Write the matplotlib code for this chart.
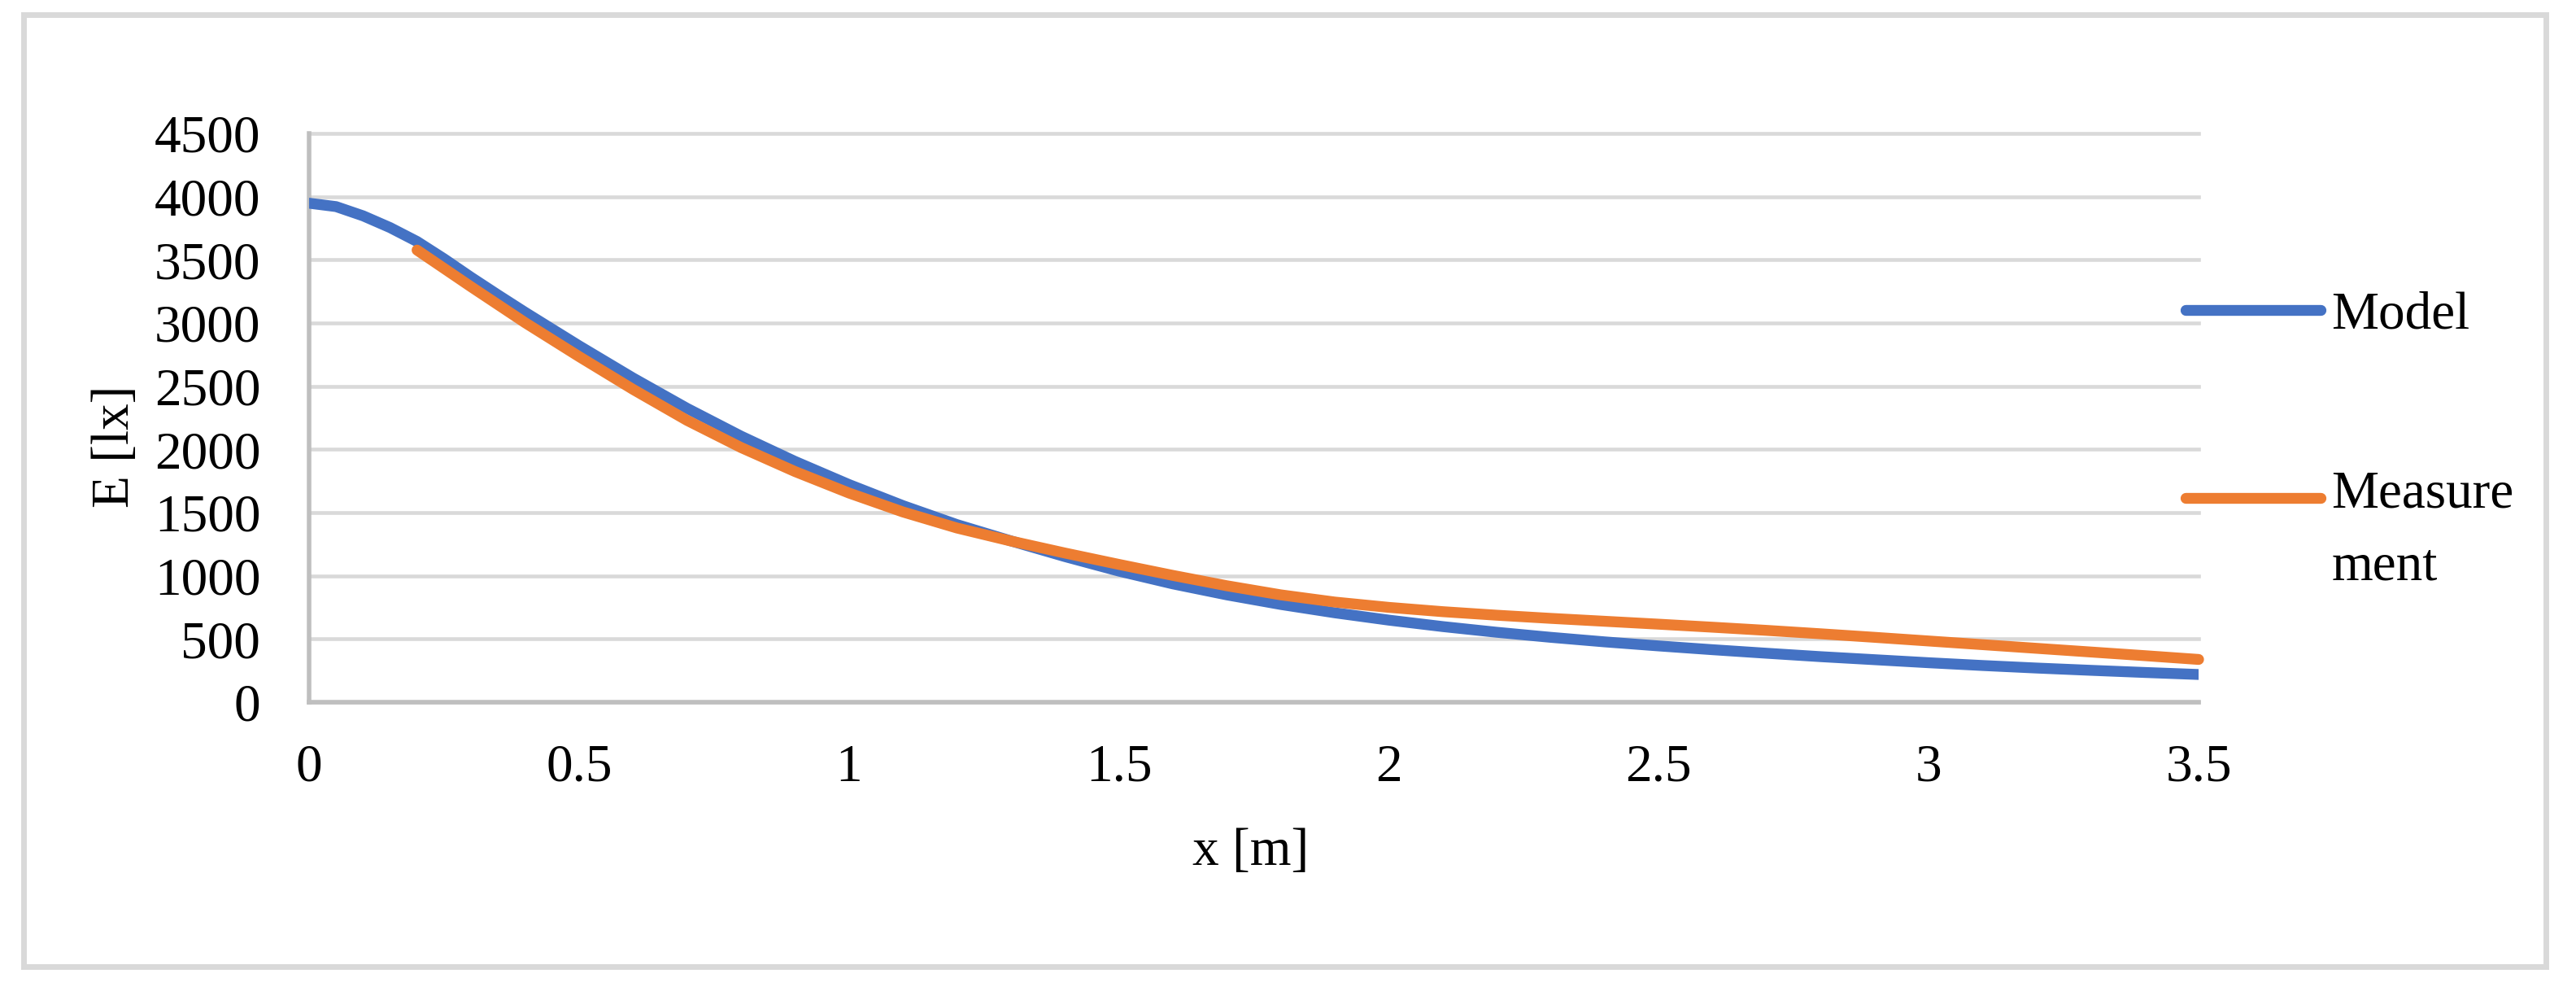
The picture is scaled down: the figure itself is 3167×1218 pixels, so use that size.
import matplotlib
matplotlib.use("Agg")
import matplotlib.pyplot as plt
from matplotlib.patches import Rectangle
import numpy as np

# ---- data ----
model_x = [0.0, 0.05, 0.1, 0.15, 0.2, 0.25, 0.3, 0.35, 0.4, 0.5, 0.6, 0.7, 0.8,
           0.9, 1.0, 1.1, 1.2, 1.3, 1.4, 1.5, 1.6, 1.7, 1.8, 1.9, 2.0, 2.1, 2.2,
           2.3, 2.4, 2.5, 2.6, 2.7, 2.8, 2.9, 3.0, 3.1, 3.2, 3.3, 3.4, 3.5]
model_E = [3948, 3921, 3848, 3755, 3645, 3508, 3362, 3222, 3085, 2820, 2565, 2325,
           2105, 1905, 1722, 1555, 1405, 1276, 1152, 1037, 936, 849, 773, 707, 649,
           598, 553, 513, 477, 445, 415, 387, 360, 336, 312, 290, 270, 252, 235, 219]

meas_x = [0.2, 0.3, 0.4, 0.5, 0.6, 0.7, 0.8, 0.9, 1.0, 1.1, 1.2, 1.3, 1.4, 1.5,
          1.6, 1.7, 1.8, 1.9, 2.0, 2.1, 2.2, 2.3, 2.4, 2.5, 2.6, 2.7, 2.8, 2.9,
          3.0, 3.1, 3.2, 3.3, 3.4, 3.5]
meas_E = [3577, 3287, 3003, 2735, 2475, 2230, 2015, 1825, 1655, 1505, 1378, 1275,
          1180, 1090, 1003, 921, 849, 792, 750, 716, 688, 663, 640, 617, 593, 568,
          541, 513, 484, 455, 426, 397, 368, 338]

series_names = ["Model", "Measure\nment"]
x_ticks = [0, 0.5, 1, 1.5, 2, 2.5, 3, 3.5]
x_tick_labels = ["0", "0.5", "1", "1.5", "2", "2.5", "3", "3.5"]
y_ticks = [0, 500, 1000, 1500, 2000, 2500, 3000, 3500, 4000, 4500]
x_label = "x [m]"
y_label = "E [lx]"

# ---- style ----
plt.rcParams['font.family'] = ['Liberation Serif', 'DejaVu Serif']
FS = 47
BLUE = "#4472C4"
ORANGE = "#ED7D31"
GRID = "#D9D9D9"
AXIS = "#BFBFBF"

W, H, DPI = 3167, 1218, 100
fig = plt.figure(figsize=(W / DPI, H / DPI), dpi=DPI)
fig.patch.set_facecolor("white")

left, right, top, bottom = 380, 2703, 164, 863
ax = fig.add_axes([left / W, 1 - bottom / H, (right - left) / W, (bottom - top) / H])

# outer chart border
fig.patches.append(Rectangle((29 / W, 30 / H), (3130 - 29) / W, (1200 - 30) / H,
                             transform=fig.transFigure, fill=False,
                             edgecolor=GRID, linewidth=5, zorder=0))

l1, = ax.plot(model_x, model_E, color=BLUE, lw=9.6, solid_capstyle='round',
              solid_joinstyle='round', zorder=3, clip_on=True)
l2, = ax.plot(meas_x, meas_E, color=ORANGE, lw=9.6, solid_capstyle='round',
              solid_joinstyle='round', zorder=4, clip_on=False)

ax.set_xlim(0, 3.5)
ax.set_ylim(0, 4500)
ax.set_xticks(x_ticks)
ax.set_xticklabels(x_tick_labels)
ax.set_yticks(y_ticks)
ax.tick_params(axis='both', length=0, labelsize=FS)
ax.tick_params(axis='y', pad=43)
ax.tick_params(axis='x', pad=37)

ax.grid(axis='y', color=GRID, lw=3.3, zorder=1)
ax.set_axisbelow(True)
for gl in ax.get_ygridlines():
    gl.set_clip_on(False)

for s in ['top', 'right']:
    ax.spines[s].set_visible(False)
for s in ['left', 'bottom']:
    ax.spines[s].set_color(AXIS)
    ax.spines[s].set_linewidth(4)

ax.set_xlabel(x_label, fontsize=FS)
ax.set_ylabel(y_label, fontsize=FS)
ax.xaxis.set_label_coords(0.4985, (bottom - 1047) / (bottom - top))
ax.yaxis.label.set_verticalalignment('center')
ax.xaxis.label.set_verticalalignment('center')
ax.yaxis.set_label_coords((142 - left) / (right - left), (bottom - 549) / (bottom - top))

# legend
leg1 = ax.legend([l1], [series_names[0]], loc='center left',
                 bbox_to_anchor=(2687 / W, 1 - 388 / H), bbox_transform=fig.transFigure,
                 frameon=False, borderpad=0, borderaxespad=0, handlelength=2.55,
                 handletextpad=0.2, fontsize=FS)
ax.add_artist(leg1)
leg2 = ax.legend([l2], [series_names[1]], loc='center left',
                 bbox_to_anchor=(2687 / W, 1 - 652 / H), bbox_transform=fig.transFigure,
                 frameon=False, borderpad=0, borderaxespad=0, handlelength=2.55,
                 handletextpad=0.2, fontsize=FS)
leg2.get_texts()[0].set_linespacing(1.65)
h = leg2.legend_handles[0]
h.set_ydata(np.asarray(h.get_ydata()) + 28.4)

fig.savefig("out.png", dpi=DPI, facecolor="white")
